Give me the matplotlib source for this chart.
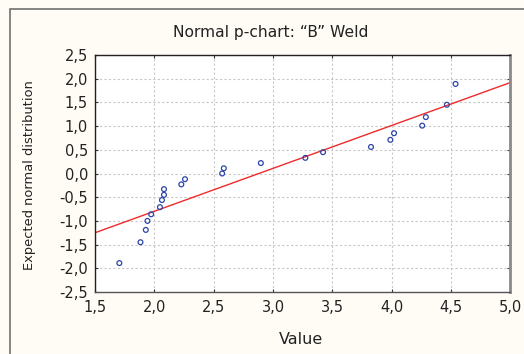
import matplotlib
matplotlib.use("Agg")
import matplotlib.pyplot as plt
from matplotlib.patches import Rectangle
from matplotlib.ticker import FuncFormatter

plt.rcParams['font.family'] = ['DejaVu Sans']

# Data
value = [1.705, 1.883, 1.928, 1.942, 1.973, 2.047, 2.064, 2.081, 2.081,
         2.227, 2.258, 2.571, 2.585, 2.897, 3.272, 3.421, 3.825, 3.988,
         4.019, 4.256, 4.287, 4.464, 4.537]
expected = [-1.89, -1.45, -1.19, -1.00, -0.86, -0.71, -0.56, -0.45, -0.33,
            -0.23, -0.12, 0.00, 0.11, 0.22, 0.33, 0.45, 0.56, 0.71,
            0.85, 1.01, 1.19, 1.45, 1.89]
line_x = [1.5, 5.0]
line_y = [-1.25, 1.92]
x_ticks = [1.5, 2.0, 2.5, 3.0, 3.5, 4.0, 4.5, 5.0]
y_ticks = [-2.5, -2.0, -1.5, -1.0, -0.5, 0.0, 0.5, 1.0, 1.5, 2.0, 2.5]

W, H = 524, 354
bg = '#fffcf5'
fig = plt.figure(figsize=(W / 100, H / 100), dpi=100, facecolor=bg)

# outer frame
fig.patches.append(Rectangle((10 / W, -0.1), 1.2, 1 - 9 / H + 0.1,
                             transform=fig.transFigure, fill=False,
                             edgecolor='#707070', linewidth=1.2))

ax = fig.add_axes([95 / W, 1 - 292 / H, (510.5 - 95) / W, (292 - 55) / H])
ax.set_facecolor('white')

ax.plot(line_x, line_y, color='#ee2a2a', linewidth=1.0, zorder=2)
ax.scatter(value, expected, s=12, facecolors='none', edgecolors='#2c45a8',
           linewidths=0.9, zorder=3)

ax.set_xlim(1.5, 5.0)
ax.set_ylim(-2.5, 2.5)
ax.set_xticks(x_ticks)
ax.set_yticks(y_ticks)
fmt = FuncFormatter(lambda v, p: f"{v:.1f}".replace('.', ','))
ax.xaxis.set_major_formatter(fmt)
ax.yaxis.set_major_formatter(fmt)
ax.tick_params(direction='in', length=2, width=0.8, colors='#333333',
               labelsize=10.5, labelcolor='#222222', top=True, right=True)
ax.tick_params(axis='x', pad=6)
ax.tick_params(axis='y', pad=5)
ax.grid(True, color='#c8c8c8', linestyle=(0, (2, 2)), linewidth=0.8)
ax.set_axisbelow(True)

for s in ['top', 'left']:
    ax.spines[s].set_color('#222222')
    ax.spines[s].set_linewidth(1.0)
ax.spines['bottom'].set_color('#555555')
ax.spines['bottom'].set_linewidth(1.0)
ax.spines['right'].set_color('#8a8a8a')
ax.spines['right'].set_linewidth(2.0)

fig.text(271 / W, 1 - 32 / H, 'Normal p-chart: \u201cB\u201d Weld', ha='center',
         va='center', fontsize=11.2, color='#222222')
fig.text(301 / W, 1 - 340 / H, 'Value', ha='center', va='center',
         fontsize=11.5, color='#222222')
fig.text(30 / W, 1 - 175 / H, 'Expected normal distribution', ha='center',
         va='center', rotation=90, fontsize=9.4, color='#222222')

fig.savefig('out.png', dpi=100, facecolor=bg)
